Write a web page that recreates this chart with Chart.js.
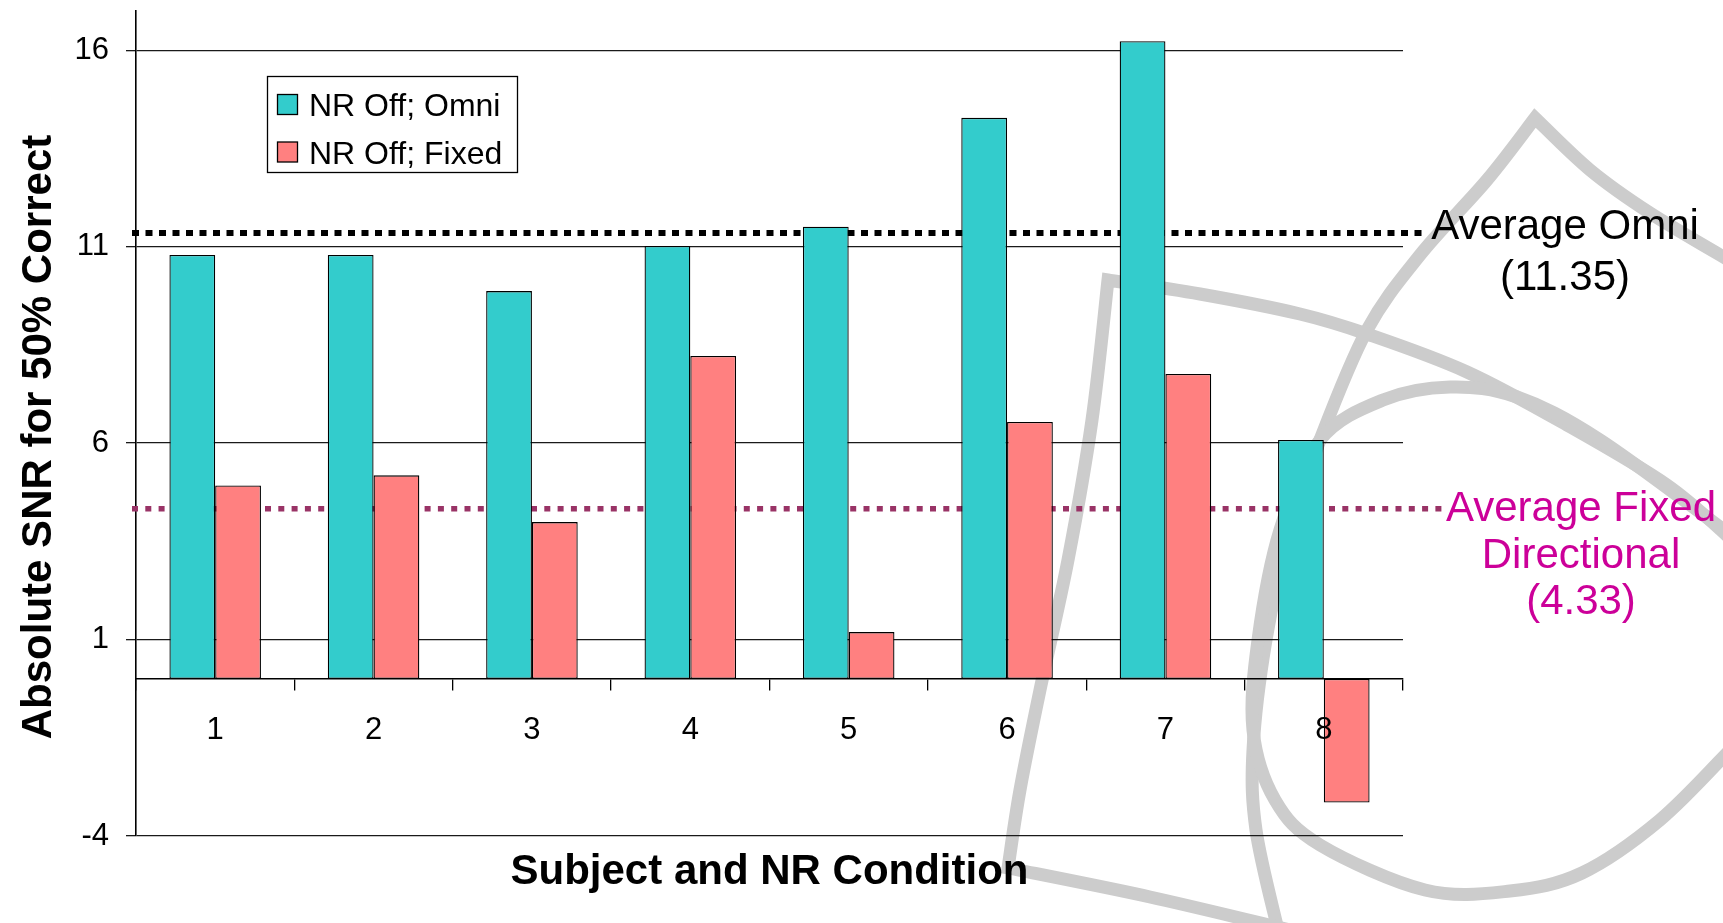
<!DOCTYPE html>
<html>
<head>
<meta charset="utf-8">
<title>Absolute SNR for 50% Correct</title>
<script src="https://cdn.jsdelivr.net/npm/chart.js@4.4.1/dist/chart.umd.min.js"></script>
<style>
  html, body { margin: 0; padding: 0; background: #ffffff; overflow: hidden; }
  #wrap { position: relative; width: 1723px; height: 923px; }
</style>
</head>
<body>
<div id="wrap"><canvas id="chart" width="1723" height="923"></canvas></div>
<script>
// ---- data ----
const categories = ['1', '2', '3', '4', '5', '6', '7', '8'];
const seriesNames = ['NR Off; Omni', 'NR Off; Fixed'];
const omniValues = [10.79, 10.79, 9.87, 11.02, 11.51, 14.28, 16.23, 6.08];
const fixedValues = [4.92, 5.18, 3.99, 8.22, 1.19, 6.54, 7.76, -3.15];
const yTickValues = [-4, 1, 6, 11, 16];
const yRange = [-4, 17];
const averageOmni = 11.35;
const averageFixed = 4.33;

// ---- styling ----
const FONT = "'Liberation Sans', Arial, Helvetica, sans-serif";
const TEAL = '#33CCCC';
const SALMON = '#FF8080';
const MAGENTA = '#CC0099';
const PLUM = '#993366';

// Smooth curve through a list of points (Catmull-Rom as cubic Beziers).
function smoothTo(ctx, pts) {
  for (let i = 0; i < pts.length - 1; i++) {
    const p0 = pts[i - 1] || pts[i];
    const p1 = pts[i];
    const p2 = pts[i + 1];
    const p3 = pts[i + 2] || p2;
    ctx.bezierCurveTo(
      p1[0] + (p2[0] - p0[0]) / 6, p1[1] + (p2[1] - p0[1]) / 6,
      p2[0] - (p3[0] - p1[0]) / 6, p2[1] - (p3[1] - p1[1]) / 6,
      p2[0], p2[1]);
  }
}

function strokeCurve(ctx, segments) {
  ctx.beginPath();
  ctx.moveTo(segments[0][0][0], segments[0][0][1]);
  segments.forEach(seg => smoothTo(ctx, seg));
  ctx.stroke();
}

// Light grey logo strokes in the slide background.
const backgroundLogo = {
  id: 'backgroundLogo',
  beforeDraw(chart) {
    const ctx = chart.ctx;
    ctx.save();
    ctx.fillStyle = '#ffffff';
    ctx.fillRect(0, 0, chart.width, chart.height);
    ctx.strokeStyle = 'rgb(204,204,204)';
    ctx.lineWidth = 13;
    ctx.lineJoin = 'miter';
    ctx.lineCap = 'butt';

    // pointed outer arch
    strokeCurve(ctx, [
      [[1732, 262], [1650, 213], [1590, 170], [1535, 118]],
      [[1535, 118], [1487, 180], [1420, 255], [1367, 330], [1320, 440], [1290, 530],
       [1266, 640], [1253, 750], [1256, 830], [1278, 930]]
    ]);

    // curved triangle with a left vertex
    strokeCurve(ctx, [
      [[1732, 540], [1667, 485], [1567, 425], [1467, 372], [1367, 334], [1300, 314], [1200, 294], [1108, 280]],
      [[1108, 280], [1092, 420], [1068, 560], [1040, 690], [1020, 790], [1008, 868]],
      [[1008, 868], [1150, 897], [1290, 930]]
    ]);

    // rounded loop
    strokeCurve(ctx, [
      [[1732, 536], [1600, 440], [1517, 397], [1450, 387], [1383, 400], [1320, 440], [1280, 530],
       [1258, 640], [1253, 730], [1275, 800], [1320, 845], [1425, 890], [1510, 891], [1582, 873],
       [1660, 820], [1732, 748]]
    ]);
    ctx.restore();
  }
};

// Dotted average lines, drawn beneath the bars.
const averageLines = {
  id: 'averageLines',
  beforeDatasetsDraw(chart) {
    const ctx = chart.ctx;
    const y = chart.scales.y;
    const left = chart.chartArea.left - 4;
    ctx.save();
    ctx.lineCap = 'butt';

    ctx.setLineDash([7, 6.5]);
    ctx.lineWidth = 6;
    ctx.strokeStyle = '#000000';
    ctx.beginPath();
    ctx.moveTo(left, y.getPixelForValue(averageOmni));
    ctx.lineTo(1428, y.getPixelForValue(averageOmni));
    ctx.stroke();

    ctx.setLineDash([6, 7.3]);
    ctx.lineWidth = 5.5;
    ctx.strokeStyle = PLUM;
    ctx.beginPath();
    ctx.moveTo(left, y.getPixelForValue(averageFixed));
    ctx.lineTo(1445, y.getPixelForValue(averageFixed));
    ctx.stroke();
    ctx.restore();
  }
};

// Axis titles, legend box and the average captions.
const decorations = {
  id: 'decorations',
  afterDraw(chart) {
    const ctx = chart.ctx;
    const area = chart.chartArea;
    ctx.save();

    // axis titles
    ctx.fillStyle = '#000000';
    ctx.font = 'bold 42px ' + FONT;
    ctx.textAlign = 'center';
    ctx.textBaseline = 'alphabetic';
    ctx.fillText('Subject and NR Condition', (area.left + area.right) / 2, 884);
    ctx.save();
    ctx.translate(51, 437);
    ctx.rotate(-Math.PI / 2);
    ctx.fillText('Absolute SNR for 50% Correct', 0, 0);
    ctx.restore();

    // legend
    ctx.fillStyle = '#ffffff';
    ctx.fillRect(267.5, 76.5, 250, 96);
    ctx.lineWidth = 1.3;
    ctx.strokeStyle = '#000000';
    ctx.strokeRect(267.5, 76.5, 250, 96);
    ctx.font = '32px ' + FONT;
    ctx.textAlign = 'left';
    chart.data.datasets.forEach((ds, i) => {
      const top = 94 + i * 47.5;
      ctx.fillStyle = ds.backgroundColor;
      ctx.fillRect(277.5, top + 0.5, 20, 20);
      ctx.strokeRect(277.5, top + 0.5, 20, 20);
      ctx.fillStyle = '#000000';
      ctx.fillText(ds.label, 309, top + 22);
    });

    // captions for the average lines
    ctx.textAlign = 'center';
    ctx.font = '42px ' + FONT;
    ctx.fillStyle = '#000000';
    ctx.fillText('Average Omni', 1565, 239);
    ctx.fillText('(' + averageOmni.toFixed(2) + ')', 1565, 290);
    ctx.fillStyle = MAGENTA;
    ctx.fillText('Average Fixed', 1581, 521);
    ctx.fillText('Directional', 1581, 568);
    ctx.fillText('(' + averageFixed.toFixed(2) + ')', 1581, 614);
    ctx.restore();
  }
};

Chart.defaults.font.family = FONT;

new Chart(document.getElementById('chart'), {
  type: 'bar',
  data: {
    labels: categories,
    datasets: [
      {
        label: seriesNames[0],
        data: omniValues,
        backgroundColor: TEAL,
        borderColor: '#000000',
        borderWidth: 1.3,
        borderSkipped: false
      },
      {
        label: seriesNames[1],
        data: fixedValues,
        backgroundColor: SALMON,
        borderColor: '#000000',
        borderWidth: 1.3,
        borderSkipped: false
      }
    ]
  },
  options: {
    responsive: false,
    animation: false,
    devicePixelRatio: 1,
    events: [],
    layout: { padding: { left: 0, right: 320, top: 11, bottom: 87 } },
    datasets: { bar: { categoryPercentage: 0.578, barPercentage: 1.0 } },
    plugins: {
      legend: { display: false },
      tooltip: { enabled: false },
      title: { display: false }
    },
    scales: {
      x: {
        type: 'category',
        position: { y: 0 },
        offset: true,
        grid: {
          display: true,
          offset: true,
          drawOnChartArea: false,
          drawTicks: true,
          tickLength: 11,
          color: '#000000',
          lineWidth: 1.3
        },
        border: { display: true, color: '#000000', width: 1.6, z: 1 },
        ticks: {
          color: '#000000',
          font: { size: 31, family: FONT },
          padding: 22,
          maxRotation: 0,
          autoSkip: false,
          z: 1
        },
        afterFit(scale) {
          scale.paddingLeft = 0;
          scale.paddingRight = 0;
        }
      },
      y: {
        type: 'linear',
        min: yRange[0],
        max: yRange[1],
        afterBuildTicks(scale) {
          scale.ticks = yTickValues.map(v => ({ value: v }));
        },
        afterFit(scale) {
          scale.width = 136;
          scale.paddingTop = 0;
          scale.paddingBottom = 0;
        },
        grid: {
          color: '#1a1a1a',
          lineWidth: 1.3,
          drawTicks: true,
          tickLength: 10
        },
        border: { display: true, color: '#000000', width: 1.6 },
        ticks: {
          color: '#000000',
          font: { size: 31, family: FONT },
          padding: 17
        }
      }
    }
  },
  plugins: [backgroundLogo, averageLines, decorations]
});
</script>
</body>
</html>
